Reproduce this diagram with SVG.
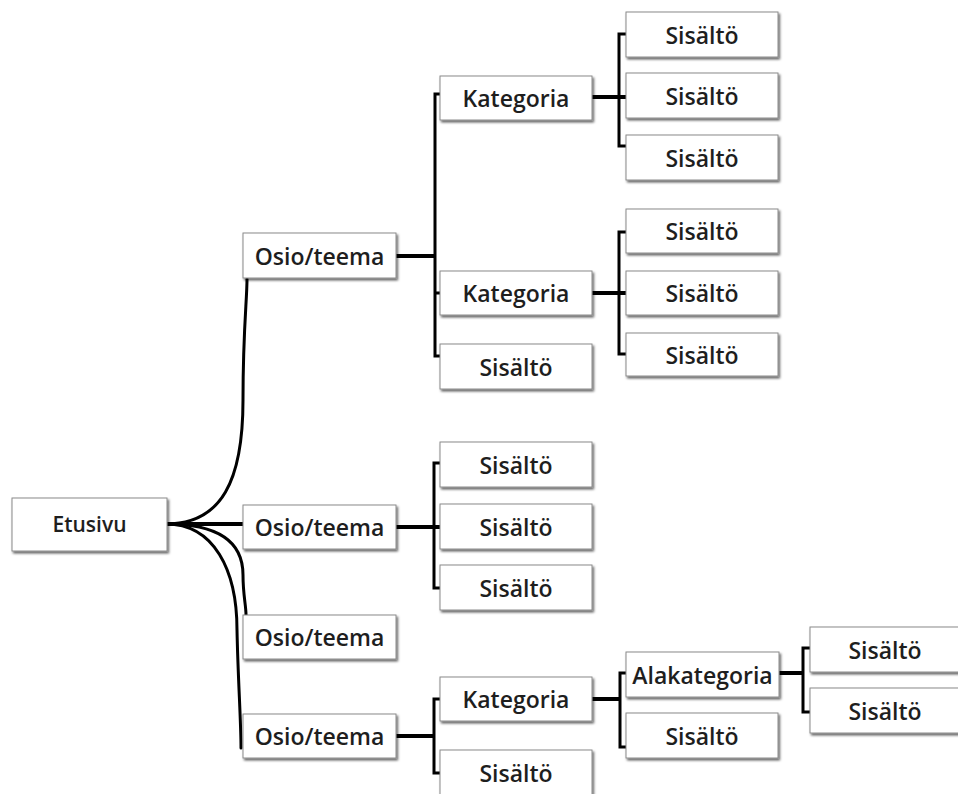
<svg xmlns="http://www.w3.org/2000/svg" width="958" height="794" viewBox="0 0 958 794">
<defs>
<filter id="sh" x="-10%" y="-20%" width="125%" height="150%">
<feDropShadow dx="1.5" dy="2" stdDeviation="1.2" flood-color="#000" flood-opacity="0.6"/>
</filter>
</defs>
<style>
.box{fill:#fff;stroke:#8a8a8a;stroke-width:1;filter:url(#sh)}
.t{font-family:"Open Sans","DejaVu Sans",sans-serif;font-weight:600;font-size:23px;fill:#1e1e1e;text-anchor:middle;dominant-baseline:central}
.br{fill:none;stroke:#000;stroke-width:3;stroke-linejoin:miter;stroke-linecap:butt}
.hz{fill:none;stroke:#000;stroke-width:4}
.cv{fill:none;stroke:#000;stroke-width:3;stroke-linecap:round}
</style>
<rect width="958" height="794" fill="#fff"/>
<g id="connectors">
<path class="cv" d="M166,524 C222,524 243,480 243,400 C243,330 247,300 247,279"/>
<path class="hz" d="M166,524 L243,524"/>
<path class="cv" d="M166,524 C215,524 243,540 243,575 C243,595 246,605 246,615"/>
<path class="cv" d="M166,524 C214,524 237,570 237,630 C238,680 241,720 241,748"/>
<path class="hz" d="M396,256 L435,256"/>
<path class="br" d="M440,94 L435,94 L435,356 L440,356 M435,293 L440,293"/>
<path class="hz" d="M396,527 L440,527"/>
<path class="br" d="M440,463 L434,463 L434,588 L440,588"/>
<path class="hz" d="M396,736 L434,736"/>
<path class="br" d="M440,699 L434,699 L434,773 L440,773"/>
<path class="hz" d="M592,97 L626,97"/>
<path class="br" d="M626,34 L619,34 L619,146 L626,146"/>
<path class="hz" d="M592,293 L626,293"/>
<path class="br" d="M626,232 L619,232 L619,354 L626,354"/>
<path class="hz" d="M592,699 L620,699"/>
<path class="br" d="M626,673 L620,673 L620,747 L626,747"/>
<path class="hz" d="M779,673 L803,673"/>
<path class="br" d="M810,648 L803,648 L803,712 L810,712"/>
</g>
<g id="etusivu"><rect class="box" x="12" y="498" width="155" height="53"/><text class="t" x="89.5" y="524" style="font-size:21px">Etusivu</text></g>
<g id="osio1"><rect class="box" x="243" y="233" width="153" height="45"/><text class="t" x="319.5" y="255.5">Osio/teema</text></g>
<g id="osio2"><rect class="box" x="243" y="505" width="153" height="44"/><text class="t" x="319.5" y="527">Osio/teema</text></g>
<g id="osio3"><rect class="box" x="243" y="615" width="153" height="44"/><text class="t" x="319.5" y="637">Osio/teema</text></g>
<g id="osio4"><rect class="box" x="243" y="714" width="153" height="44"/><text class="t" x="319.5" y="736">Osio/teema</text></g>
<g id="kat1"><rect class="box" x="440" y="76" width="152" height="44"/><text class="t" x="516" y="98">Kategoria</text></g>
<g id="kat2"><rect class="box" x="440" y="271" width="152" height="44"/><text class="t" x="516" y="293">Kategoria</text></g>
<g id="s1"><rect class="box" x="440" y="344" width="152" height="45"/><text class="t" x="516" y="366.5">Sisältö</text></g>
<g id="s2"><rect class="box" x="440" y="442" width="152" height="45"/><text class="t" x="516" y="464.5">Sisältö</text></g>
<g id="s3"><rect class="box" x="440" y="504" width="152" height="45"/><text class="t" x="516" y="526.5">Sisältö</text></g>
<g id="s4"><rect class="box" x="440" y="565" width="152" height="45"/><text class="t" x="516" y="587.5">Sisältö</text></g>
<g id="kat3"><rect class="box" x="440" y="677" width="152" height="44"/><text class="t" x="516" y="699">Kategoria</text></g>
<g id="s5"><rect class="box" x="440" y="750" width="152" height="48"/><text class="t" x="516" y="773">Sisältö</text></g>
<g id="s6"><rect class="box" x="626" y="12" width="152" height="45"/><text class="t" x="702" y="34.5">Sisältö</text></g>
<g id="s7"><rect class="box" x="626" y="73" width="152" height="45"/><text class="t" x="702" y="95.5">Sisältö</text></g>
<g id="s8"><rect class="box" x="626" y="135" width="152" height="45"/><text class="t" x="702" y="157.5">Sisältö</text></g>
<g id="s9"><rect class="box" x="626" y="209" width="152" height="44"/><text class="t" x="702" y="231">Sisältö</text></g>
<g id="s10"><rect class="box" x="626" y="271" width="152" height="44"/><text class="t" x="702" y="293">Sisältö</text></g>
<g id="s11"><rect class="box" x="626" y="333" width="152" height="43"/><text class="t" x="702" y="354.5">Sisältö</text></g>
<g id="alakat"><rect class="box" x="626" y="652" width="153" height="45"/><text class="t" x="702.5" y="674.5">Alakategoria</text></g>
<g id="s12"><rect class="box" x="626" y="713" width="152" height="45"/><text class="t" x="702" y="735.5">Sisältö</text></g>
<g id="s13"><rect class="box" x="810" y="627" width="160" height="45"/><text class="t" x="885" y="649.5">Sisältö</text></g>
<g id="s14"><rect class="box" x="810" y="688" width="160" height="45"/><text class="t" x="885" y="710.5">Sisältö</text></g>
</svg>
